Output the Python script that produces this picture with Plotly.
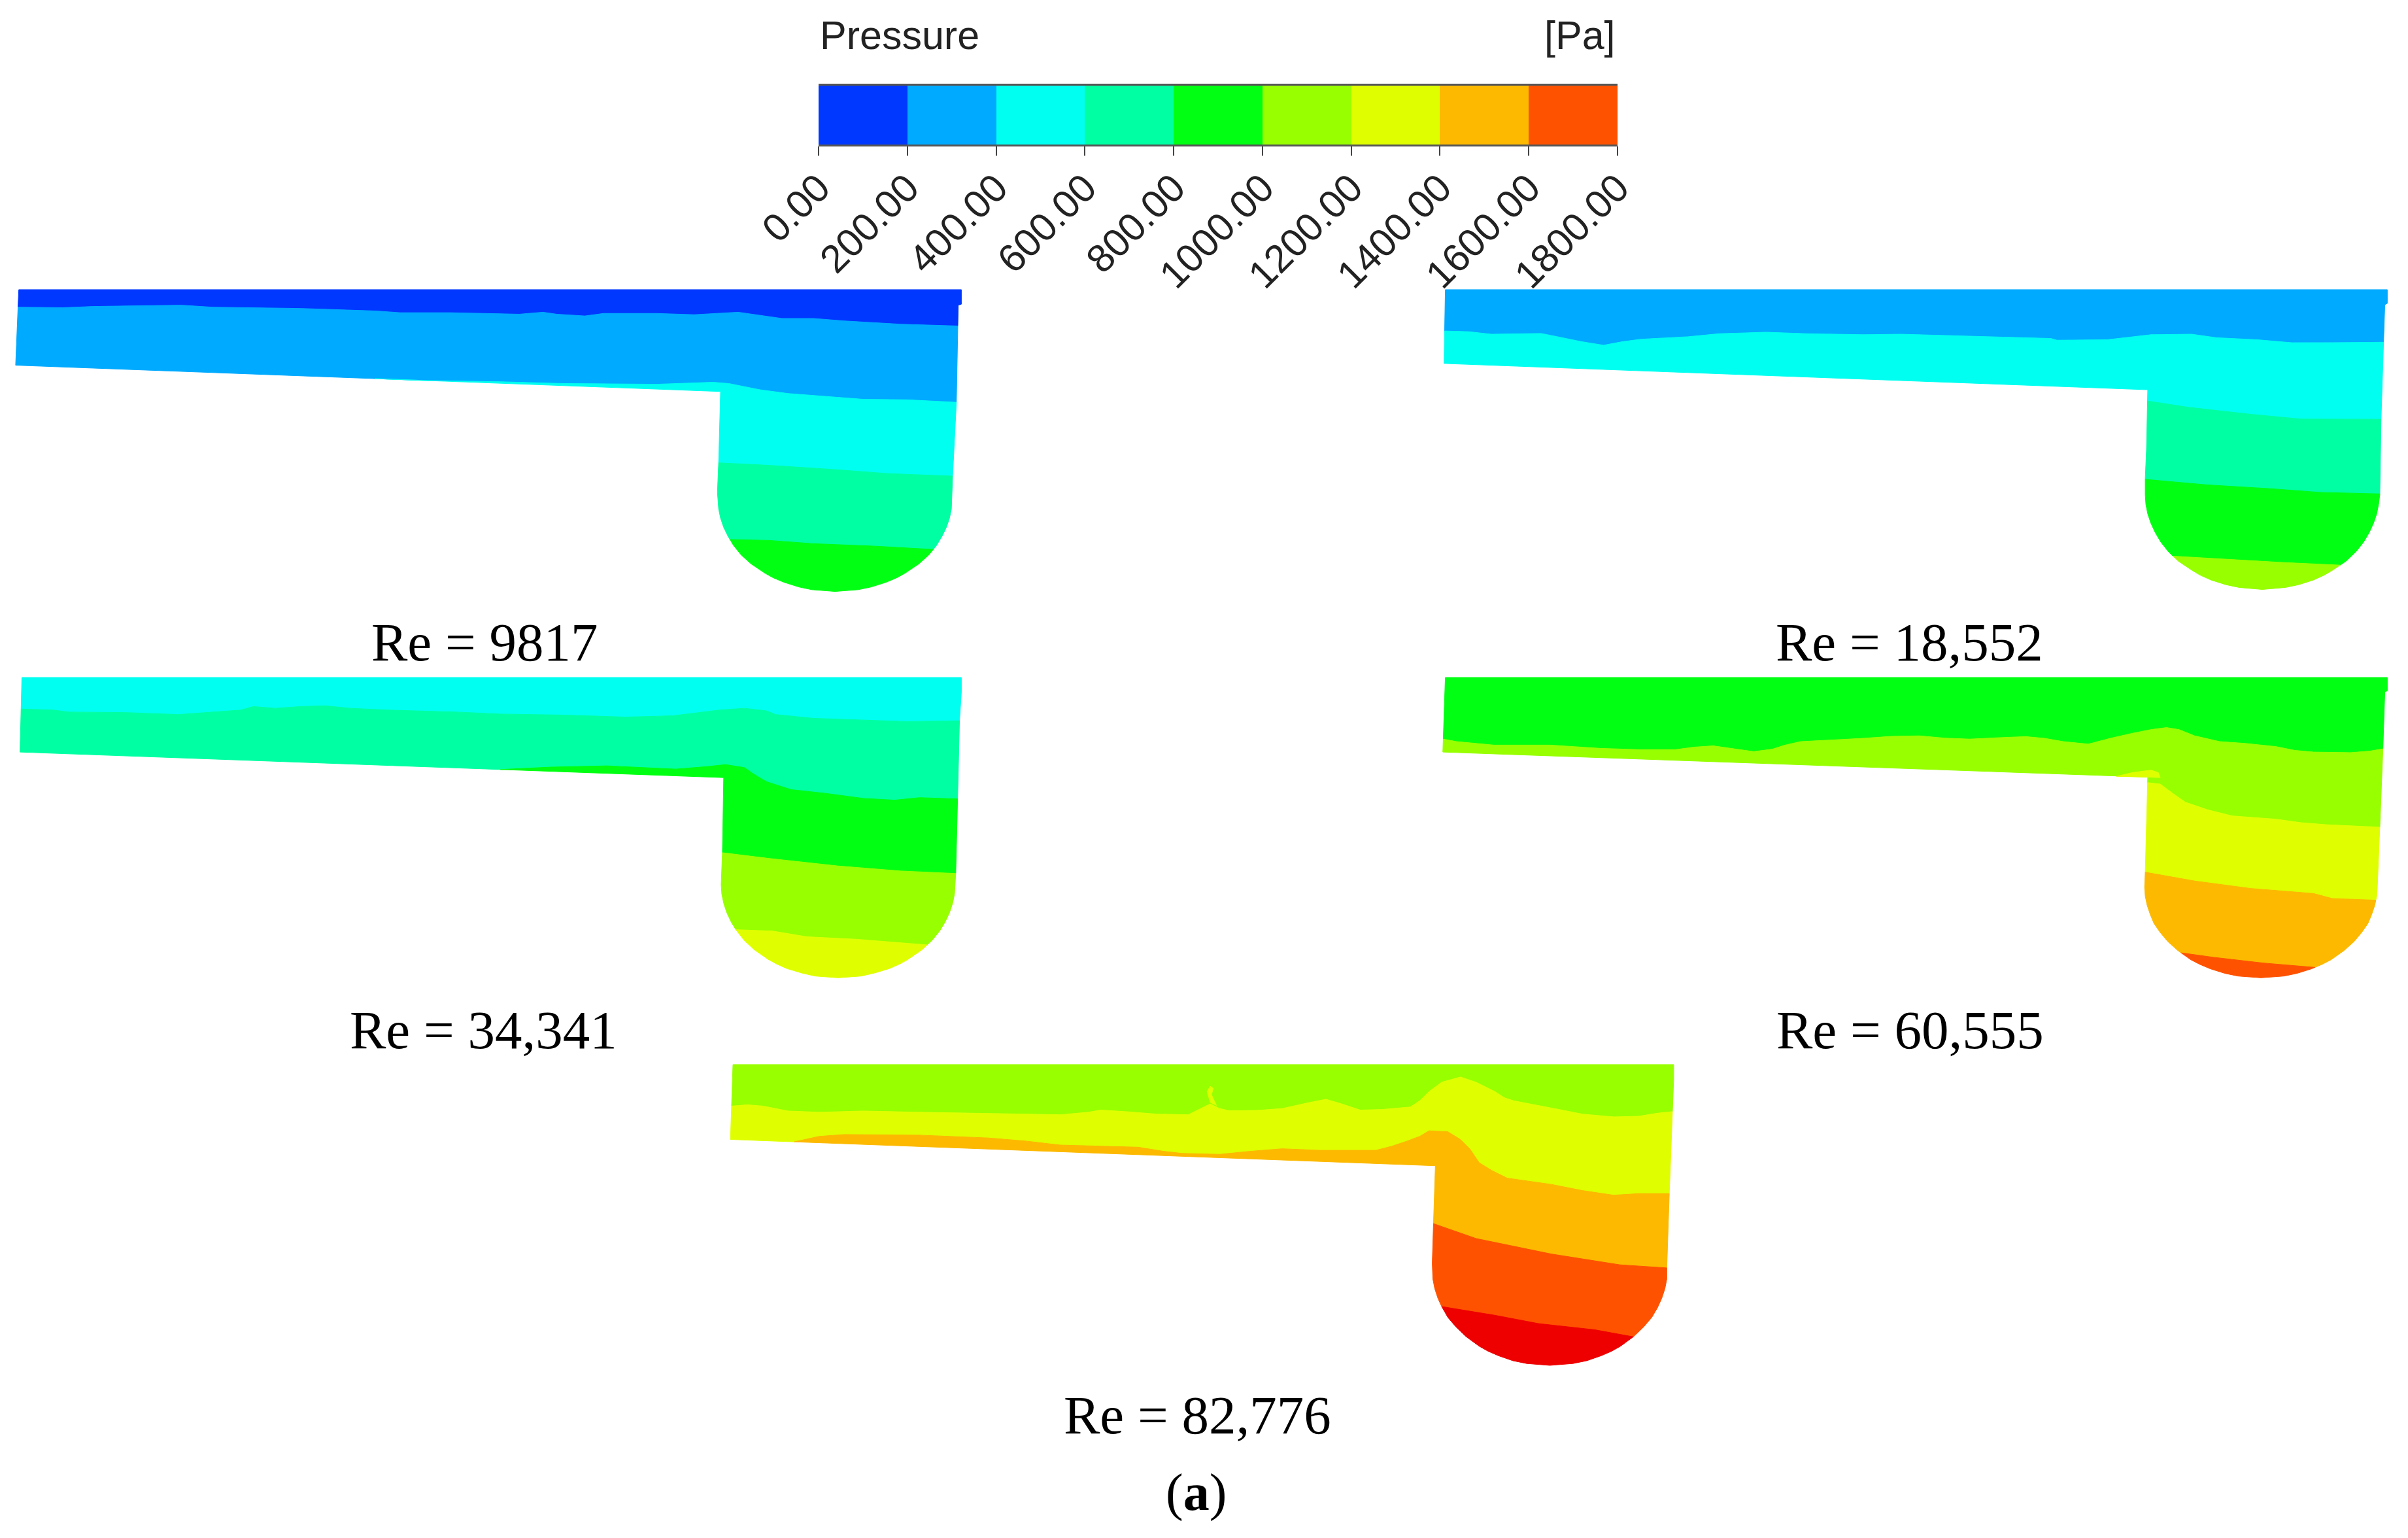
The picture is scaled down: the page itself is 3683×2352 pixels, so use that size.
import math
import plotly.graph_objects as go

# ---- colour levels (colour bar) ----
LEVELS = [0, 200, 400, 600, 800, 1000, 1200, 1400, 1600, 1800]
TICK_TEXT = ["0.00", "200.00", "400.00", "600.00", "800.00", "1000.00", "1200.00", "1400.00", "1600.00", "1800.00"]
BAND_COLOURS = ["#0038ff", "#00aaff", "#00fff0", "#00ffa2", "#00ff12", "#97ff00", "#dfff00", "#fcb900", "#ff5200", "#ee0000"]
BAND_NAMES = ["blue", "sky", "cyan", "mint", "green", "lime", "yellow", "orange", "vermilion", "red"]

# ---- Re = 9817 ----
P1_OUTLINE = [(30,60),(1537,60),(1537,118),(1532,122),(1529,510),(1523,805),(1522,900),(1521,937),(1518,973),(1513,1010),(1506,1046),(1497,1083),(1485,1120),(1469,1156),(1447,1193),(1434,1211),(1417,1229),(1393,1248),(1372,1259),(1335,1266),(1298,1259),(1277,1248),(1253,1229),(1236,1211),(1223,1193),(1201,1156),(1185,1120),(1173,1083),(1164,1046),(1157,1010),(1152,973),(1149,937),(1148,900),(1147,870),(1149,750),(1152,467),(25,362)]
P1_ISO_A = [(30,130),(100,132),(150,127),(290,122),(340,130),(480,135),(600,145),(640,152),(720,152),(830,158),(868,150),(890,158),(935,165),(965,155),(1050,155),(1110,160),(1180,150),(1220,165),(1250,175),(1300,175),(1350,185),(1440,198),(1530,205)]
P1_ISO_B = [(600,415),(680,423),(800,428),(900,435),(1050,438),(1140,430),(1165,435),(1190,448),(1215,460),(1260,475),(1320,487),(1380,498),(1450,500),(1529,510)]
P1_ISO_C = [(1149,752),(1230,762),(1330,778),(1420,795),(1523,805)]
P1_ISO_D = [(1168,1058),(1230,1062),(1300,1075),(1400,1085),(1492,1098)]

# ---- Re = 18,552 ----
P2_OUTLINE = [(32,60),(1538,60),(1538,115),(1534,120),(1532,270),(1528,578),(1526,880),(1524,918),(1521,956),(1516,993),(1509,1031),(1500,1069),(1488,1107),(1472,1145),(1450,1182),(1437,1201),(1420,1220),(1396,1239),(1375,1250),(1338,1258),(1301,1250),(1280,1239),(1256,1220),(1239,1201),(1226,1182),(1204,1145),(1188,1107),(1176,1069),(1167,1031),(1160,993),(1155,956),(1152,918),(1151,880),(1151,815),(1153,700),(1155,460),(30,355)]
P2_ISO_A = [(32,225),(70,228),(105,238),(185,235),(215,250),(250,268),(285,282),(315,268),(345,258),(420,248),(470,236),(545,230),(610,236),(700,240),(760,238),(850,244),(1000,255),(1010,262),(1090,260),(1125,250),(1160,240),(1225,238),(1265,252),(1330,260),(1385,272),(1450,272),(1533,270)]
P2_ISO_B = [(1156,505),(1220,530),(1320,558),(1400,577),(1528,578)]
P2_ISO_C = [(1151,818),(1250,840),(1350,855),(1430,870),(1526,876)]
P2_ISO_D = [(1195,1125),(1280,1137),(1370,1150),(1465,1162)]

# ---- Re = 34,341 ----
P3_OUTLINE = [(35,42),(1537,42),(1537,100),(1534,215),(1531,525),(1528,825),(1527,870),(1526,907),(1523,944),(1518,982),(1511,1019),(1502,1056),(1490,1093),(1474,1130),(1452,1168),(1439,1186),(1422,1205),(1398,1223),(1377,1235),(1340,1242),(1303,1235),(1282,1223),(1258,1205),(1241,1186),(1228,1168),(1206,1130),(1190,1093),(1178,1056),(1169,1019),(1162,982),(1157,944),(1154,907),(1153,870),(1155,740),(1157,442),(32,340)]
P3_ISO_A = [(35,168),(85,172),(110,180),(200,182),(285,190),(340,180),(385,172),(405,158),(440,165),(480,158),(520,155),(560,165),(620,172),(730,180),(800,188),(900,192),(1000,200),(1075,195),(1110,185),(1150,172),(1190,165),(1225,175),(1240,190),(1270,198),(1300,205),(1380,212),(1450,218),(1535,215)]
P3_ISO_B = [(800,410),(880,400),(970,395),(1050,405),(1080,408),(1130,398),(1160,390),(1190,402),(1205,428),(1225,458),(1265,490),(1320,505),(1380,525),(1430,532),(1470,522),(1531,527)]
P3_ISO_C = [(1155,742),(1230,765),(1340,795),(1440,815),(1528,825)]
P3_ISO_D = [(1175,1050),(1235,1055),(1290,1078),(1370,1088),(1486,1112)]

# ---- Re = 60,555 ----
P4_OUTLINE = [(32,42),(1538,42),(1538,95),(1534,100),(1531,325),(1526,640),(1522,880),(1521,916),(1518,952),(1513,989),(1507,1025),(1497,1061),(1485,1097),(1469,1133),(1448,1170),(1434,1188),(1417,1206),(1394,1224),(1373,1235),(1336,1242),(1299,1235),(1278,1224),(1255,1206),(1238,1188),(1224,1170),(1203,1133),(1187,1097),(1175,1061),(1165,1025),(1159,989),(1154,952),(1151,916),(1150,880),(1151,820),(1155,440),(28,340)]
P4_ISO_A = [(30,288),(50,298),(110,312),(200,312),(280,325),(340,330),(400,330),(430,320),(460,315),(490,325),(525,338),(555,328),(575,312),(600,298),(650,292),(700,285),(745,277),(790,275),(830,284),(870,288),(920,282),(960,278),(990,285),(1020,298),(1060,308),(1095,285),(1130,265),(1160,250),(1185,242),(1205,250),(1230,275),(1270,298),(1310,305),(1360,318),(1390,333),(1420,340),(1480,342),(1510,336),(1531,327)]
P4_ISO_B = [(1155,462),(1175,468),(1195,505),(1215,540),(1250,570),(1290,595),(1360,608),(1400,622),(1440,630),(1526,640)]
P4_ISO_C = [(1150,820),(1230,855),(1320,885),(1420,905),(1450,925),(1522,932)]
P4_ISO_D = [(1212,1140),(1260,1160),(1340,1183),(1420,1198)]
P4_ISLAND = [(1105,437),(1130,422),(1160,412),(1172,422),(1175,442),(1155,440)]

# ---- Re = 82,776 ----
P5_OUTLINE = [(22,38),(1526,38),(1526,85),(1524,190),(1519,455),(1515,695),(1515,731),(1512,762),(1507,793),(1500,824),(1491,855),(1478,886),(1462,917),(1441,948),(1427,964),(1410,979),(1387,995),(1365,1004),(1328,1010),(1291,1004),(1269,995),(1246,979),(1229,964),(1215,948),(1194,917),(1178,886),(1165,855),(1156,824),(1149,793),(1144,762),(1141,731),(1140,680),(1142,550),(1145,365),(18,280)]
P5_ISO_A = [(22,172),(45,168),(70,172),(110,188),(160,192),(230,188),(320,192),(440,196),(545,200),(590,192),(610,185),(650,190),(700,198),(750,200),(770,180),(785,165),(800,180),(815,187),(860,186),(900,180),(940,162),(970,150),(995,165),(1025,185),(1060,183),(1105,175),(1120,155),(1135,125),(1155,95),(1185,78),(1210,95),(1240,125),(1255,145),(1270,155),(1340,182),(1380,198),(1430,207),(1470,205),(1500,195),(1524,190)]
P5_ISO_B = [(120,286),(160,270),(200,264),(320,266),(430,275),(490,285),(545,298),(670,305),(710,318),(740,325),(800,328),(850,318),(900,310),(960,315),(1050,315),(1075,302),(1100,285),(1120,270),(1135,252),(1165,255),(1185,280),(1200,310),(1215,355),(1235,380),(1260,405),(1330,425),(1380,445),(1430,460),(1470,455),(1519,455)]
P5_ISO_C = [(1142,552),(1210,600),(1330,650),(1440,685),(1515,695)]
P5_ISO_D = [(1155,820),(1240,848),(1310,875),(1400,895),(1462,918)]
P5_ISLAND = [(780,125),(785,108),(790,115),(787,135),(795,170),(785,160)]

LABELS = ["Re = 9817", "Re = 18,552", "Re = 34,341", "Re = 60,555", "Re = 82,776"]
LABEL_X = [741, 2920, 739, 2921, 1831]
LABEL_Y = [982, 982, 1575, 1575, 2164]

# panel table: outline, iso-lines, first band index, crop offset and crop scale of the reading
PANELS = [
    (P1_OUTLINE, [P1_ISO_A, P1_ISO_B, P1_ISO_C, P1_ISO_D], 0, 0, 420, 2.613, None),
    (P2_OUTLINE, [P2_ISO_A, P2_ISO_B, P2_ISO_C, P2_ISO_D], 1, 2180, 420, 2.613, None),
    (P3_OUTLINE, [P3_ISO_A, P3_ISO_B, P3_ISO_C, P3_ISO_D], 2, 0, 1020, 2.613, None),
    (P4_OUTLINE, [P4_ISO_A, P4_ISO_B, P4_ISO_C, P4_ISO_D], 4, 2180, 1020, 2.613, (P4_ISLAND, 6)),
    (P5_OUTLINE, [P5_ISO_A, P5_ISO_B, P5_ISO_C, P5_ISO_D], 5, 1100, 1610, 2.113, (P5_ISLAND, 6)),
]
XSCALE = 1.0453


class Ring:
    """Closed outline walked clockwise, addressable by arc length."""
    def __init__(self, pts):
        self.pts = pts
        self.s = [0.0]
        n = len(pts)
        for i in range(n):
            a, b = pts[i], pts[(i + 1) % n]
            self.s.append(self.s[-1] + math.dist(a, b))
        self.total = self.s[-1]

    def project(self, p):
        best = None
        n = len(self.pts)
        for i in range(n):
            a, b = self.pts[i], self.pts[(i + 1) % n]
            dx, dy = b[0] - a[0], b[1] - a[1]
            t = max(0, min(1, ((p[0] - a[0]) * dx + (p[1] - a[1]) * dy) / (dx * dx + dy * dy)))
            q = (a[0] + t * dx, a[1] + t * dy)
            d = math.dist(p, q)
            if best is None or d < best[0]:
                best = (d, self.s[i] + t * (self.s[i + 1] - self.s[i]), q)
        return best[1], best[2]

    def path(self, s1, s2):
        if s2 < s1:
            s2 += self.total
        out = []
        for lap in (0, 1):
            for i, v in enumerate(self.pts):
                sv = self.s[i] + lap * self.total
                if s1 < sv < s2:
                    out.append(v)
        return out


def band_polygons(outline, isos):
    ring = Ring(outline)
    lines = []
    for iso in isos:
        sl, pl = ring.project(iso[0])
        sr, pr = ring.project(iso[-1])
        lines.append((sl, sr, [pl] + iso[1:-1] + [pr]))
    polys = []
    for k in range(len(lines) + 1):
        if k == 0:
            sl, sr, pts = lines[0]
            polys.append(pts[::-1] + ring.path(sl, sr))
        elif k == len(lines):
            sl, sr, pts = lines[-1]
            polys.append(pts + ring.path(sr, sl))
        else:
            ul, ur, up = lines[k - 1]
            ll, lr, lo = lines[k]
            polys.append(up + ring.path(ur, lr) + lo[::-1] + ring.path(ll, ul))
    return polys


fig = go.Figure()


def add_poly(poly, ox, oy, ys, colour, name):
    xs = [ox + p[0] / XSCALE for p in poly]
    yv = [oy + p[1] / ys for p in poly]
    fig.add_trace(go.Scatter(x=xs + xs[:1], y=yv + yv[:1], mode="lines", fill="toself", fillcolor=colour,
                             line=dict(color=colour, width=1), showlegend=False, hoverinfo="skip", name=name))


for outline, isos, first, ox, oy, ys, island in PANELS:
    for j, poly in enumerate(band_polygons(outline, isos)):
        add_poly(poly, ox, oy, ys, BAND_COLOURS[first + j], BAND_NAMES[first + j])
    if island:
        add_poly(island[0], ox, oy, ys, BAND_COLOURS[island[1]], BAND_NAMES[island[1]])

# colour bar through its own axis
fig.add_trace(go.Bar(x=[(a + b) / 2 for a, b in zip(LEVELS[:-1], LEVELS[1:])], y=[1] * 9, width=[200] * 9,
                     marker=dict(color=BAND_COLOURS[:9], line=dict(width=0)), xaxis="x2", yaxis="y2",
                     showlegend=False, hoverinfo="skip"))

W, H = 3683, 2352
annotations = []
for t, x, y in zip(LABELS, LABEL_X, LABEL_Y):
    annotations.append(dict(x=x, y=y, text=t, showarrow=False, xanchor="center", yanchor="middle",
                            font=dict(family="Liberation Serif", size=83, color="#000")))
annotations.append(dict(x=1829, y=2282, text="(<b>a</b>)", showarrow=False, xanchor="center", yanchor="middle",
                        font=dict(family="Liberation Serif", size=80, color="#000")))
annotations.append(dict(x=1252, y=54, text="Pressure", showarrow=False, xanchor="left", yanchor="middle",
                        font=dict(family="Liberation Sans", size=61, color="#222")))
annotations.append(dict(x=2473, y=54, text="[Pa]", showarrow=False, xanchor="right", yanchor="middle",
                        font=dict(family="Liberation Sans", size=61, color="#222")))

fig.update_layout(
    width=W, height=H, autosize=False, margin=dict(l=0, r=0, t=0, b=0, pad=0),
    paper_bgcolor="white", plot_bgcolor="white", bargap=0, annotations=annotations,
    xaxis=dict(range=[0, W], domain=[0, 1], visible=False, automargin=False),
    yaxis=dict(range=[H, 0], domain=[0, 1], visible=False, automargin=False),
    xaxis2=dict(domain=[1252 / W, 2474 / W], range=[0, 1800], anchor="y2", tickmode="array", automargin=False,
                tickvals=LEVELS, ticktext=TICK_TEXT, tickangle=-45, ticks="outside", ticklen=14, tickwidth=2,
                ticklabelstandoff=-10, tickcolor="#444", showline=True, mirror=True, linecolor="#555", linewidth=3,
                showgrid=False, zeroline=False, tickfont=dict(family="Liberation Sans", size=60, color="#222")),
    yaxis2=dict(domain=[1 - 221 / H, 1 - 131 / H], range=[0, 1], anchor="x2", visible=False, automargin=False),
)
fig.write_html("out.html", config={"displayModeBar": False}, post_script="document.body.style.margin='0';")
